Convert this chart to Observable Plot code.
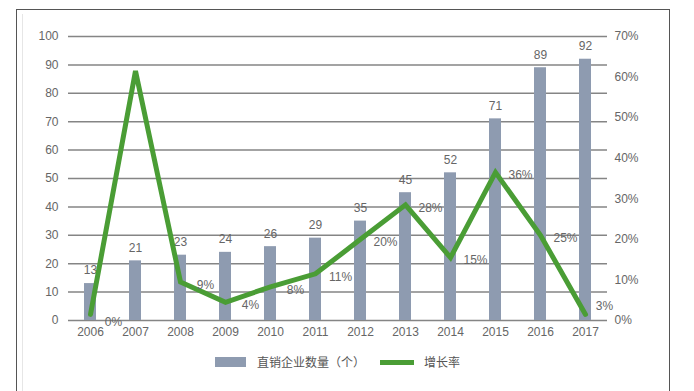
<!DOCTYPE html>
<html><head><meta charset="utf-8">
<script src="https://cdn.jsdelivr.net/npm/d3@7"></script>
<script src="https://cdn.jsdelivr.net/npm/@observablehq/plot@0.6"></script>
<style>
body{margin:0;background:#fff;width:694px;height:391px;overflow:hidden;position:relative;font-family:"Liberation Sans",Arial,sans-serif;}
#frame{position:absolute;left:16px;top:9px;width:654px;height:400px;border:1.5px solid #555;border-bottom:none;box-sizing:border-box;}
#inner{position:absolute;left:22px;top:14px;width:640px;height:400px;border-left:1px solid #e6e6e6;}
#chart{position:absolute;left:0;top:0;}
#legend{position:absolute;top:355px;left:0;width:694px;font-family:"Noto Sans CJK SC",sans-serif;font-size:12px;color:#555;}
.sw{position:absolute;}
.lt{position:absolute;top:0;line-height:14px;}
</style></head>
<body>
<div id="frame"></div>
<div id="inner"></div>
<div id="chart"></div>
<div id="legend">
  <div class="sw" style="left:215px;top:2px;width:31px;height:10px;background:#8e9bb0"></div>
  <div class="lt" style="left:257px">直销企业数量（个）</div>
  <div class="sw" style="left:380px;top:5px;width:34px;height:5px;background:#4a9d35"></div>
  <div class="lt" style="left:424px">增长率</div>
</div>
<script>
const years = ["2006","2007","2008","2009","2010","2011","2012","2013","2014","2015","2016","2017"];
const counts = [13,21,23,24,26,29,35,45,52,71,89,92];
const rate = [1.5,61.5,9.5,4.5,8.3,11.5,20,28.5,15.5,36.5,21,1.5];
const rateLabels = ["0%","62%","9%","4%","8%","11%","20%","28%","15%","36%","25%","3%"];
const leftTicks = d3.range(0,101,10);
const rightTicks = d3.range(0,71,10);

const k = 100/70;
const data = years.map((y,i)=>({year:y,count:counts[i],rate:rate[i],rateY:rate[i]*k,label:rateLabels[i]}));
const midLabels = data.filter(d=>!["2006","2007","2017"].includes(d.year));
const firstLabel = data.filter(d=>d.year==="2006");
const lastLabel = data.filter(d=>d.year==="2017");

const chart = Plot.plot({
  width:694, height:345,
  marginLeft:68, marginRight:87, marginTop:36, marginBottom:25,
  x:{domain:years, paddingInner:0.735, paddingOuter:0.3, align:0.5, axis:null, label:null},
  y:{domain:[0,100], axis:null, label:null},
  style:{fontFamily:"Liberation Sans, Arial, sans-serif", fontSize:"12px", color:"#555"},
  marks:[
    Plot.ruleY(leftTicks,{stroke:"#858585",strokeWidth:1.5}),
    Plot.axisY(leftTicks,{anchor:"left",tickSize:0,tickPadding:10,fontSize:12,fill:"#666",label:null}),
    Plot.axisY(rightTicks.map(v=>v*k),{anchor:"right",tickSize:0,tickPadding:7,fontSize:12,fill:"#666",label:null,tickFormat:d=>Math.round(d/k)+"%"}),
    Plot.axisX(years,{anchor:"bottom",tickSize:0,tickPadding:7,fontSize:12,fill:"#666",label:null}),
    Plot.barY(data,{x:"year",y:"count",fill:"#8e9bb0"}),
    Plot.text(data,{x:"year",y:"count",text:d=>String(d.count),dy:-13,fontSize:12,fill:"#666"}),
    Plot.line(data,{x:"year",y:"rateY",stroke:"#4a9d35",strokeWidth:5,strokeLinejoin:"miter",strokeMiterlimit:4}),
    Plot.text(midLabels,{x:"year",y:"rateY",text:"label",dx:25,dy:3,fontSize:12,fill:"#666"}),
    Plot.text(firstLabel,{x:"year",y:"rateY",text:"label",dx:23,dy:8,fontSize:12,fill:"#666"}),
    Plot.text(lastLabel,{x:"year",y:"rateY",text:"label",dx:19,dy:-8,fontSize:12,fill:"#666"})
  ]
});
document.getElementById("chart").appendChild(chart);
</script>
</body></html>
